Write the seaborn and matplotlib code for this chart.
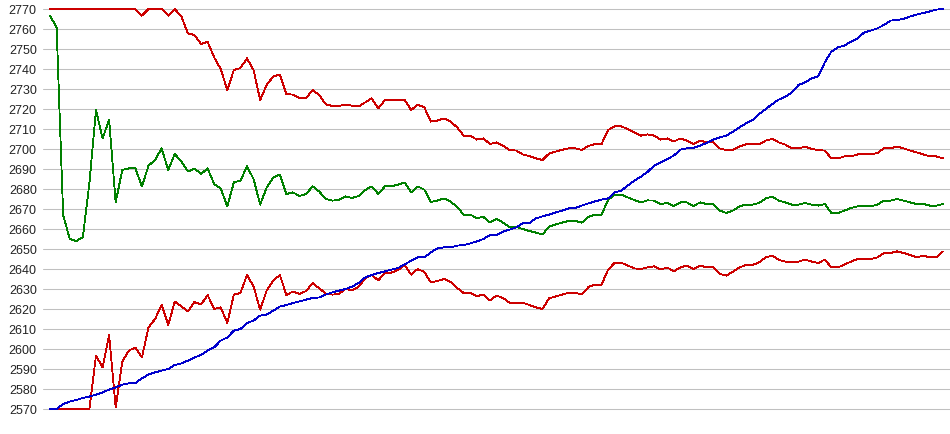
import numpy as np
import pandas as pd
import matplotlib
matplotlib.use("Agg")
import matplotlib.pyplot as plt
import seaborn as sns

# values, one per sample (137 samples)
trend = [2570, 2570, 2572.5, 2573.7, 2574.5, 2575.5, 2576.2, 2577.2, 2578.3, 2579.7,
         2580.8, 2582.2, 2582.8, 2583, 2585.3, 2587.2, 2588.3, 2589.2, 2590, 2592,
         2592.8, 2594.2, 2595.8, 2597, 2599.2, 2600.8, 2604.2, 2605.8, 2609.2, 2610,
         2613, 2614.2, 2616.7, 2617.2, 2619.2, 2621.2, 2622, 2623, 2623.8, 2624.7,
         2625.5, 2625.8, 2627.2, 2628.3, 2629.2, 2630, 2631.2, 2633, 2635.8, 2637,
         2638, 2638.8, 2639.7, 2640.5, 2642.2, 2644.2, 2645.8, 2645.8, 2648.3, 2650.3,
         2650.8, 2650.8, 2651.7, 2652, 2652.8, 2653.8, 2655, 2657, 2657, 2658.7,
         2659.7, 2660.8, 2662.8, 2663, 2665.3, 2666.3, 2667.2, 2668.3, 2669.2, 2670.3,
         2670.5, 2671.7, 2672.8, 2673.8, 2674.7, 2675.3, 2678.3, 2679.2, 2681.7, 2684.2,
         2686.2, 2688.5, 2691.7, 2693.3, 2695, 2696.7, 2699.7, 2700.3, 2700.5, 2701.7,
         2703, 2704.7, 2705.8, 2706.7, 2708.7, 2710.8, 2712.8, 2714.5, 2717.5, 2720,
         2722.5, 2724.7, 2726.2, 2728.3, 2732, 2733.3, 2735.3, 2736.3, 2743.3, 2748.7,
         2750.8, 2751.7, 2753.7, 2755.3, 2758.3, 2759.2, 2760.3, 2762, 2764.2, 2764.5,
         2765, 2766.3, 2767.2, 2768, 2768.8, 2769.7, 2770]

middle = [2766.7, 2760.8, 2667, 2655, 2654, 2656, 2683, 2719.5, 2705.3, 2714.5,
          2673.3, 2689.5, 2690.3, 2690.3, 2681.3, 2691.7, 2694.5, 2700.3, 2689.5, 2697.5,
          2693.7, 2688.7, 2690.3, 2687.5, 2690.3, 2682.5, 2680.3, 2671.3, 2683.3, 2684.2,
          2691.3, 2685, 2672.2, 2680.8, 2685.8, 2687.2, 2677.5, 2678.3, 2676.5, 2677.5,
          2681.3, 2678.7, 2675, 2674.2, 2674.5, 2676.3, 2675.5, 2676.5, 2679.5, 2681.3,
          2677.5, 2681.3, 2681.3, 2682.2, 2683.3, 2678.3, 2681.3, 2679.7, 2673.5, 2674.2,
          2675.3, 2673.7, 2671, 2667.2, 2667.2, 2665.5, 2666, 2663.2, 2665, 2663.2,
          2661, 2661, 2660, 2659, 2658.2, 2657.2, 2661.2, 2662.3, 2663.2, 2664,
          2664, 2663.2, 2666, 2667.2, 2667.2, 2674.5, 2677.2, 2677.2, 2675.8, 2674.5,
          2673.3, 2674.3, 2674.2, 2672.5, 2673, 2671.5, 2673.3, 2673.3, 2671.5, 2673.3,
          2672.5, 2672.5, 2669.2, 2668, 2669.2, 2671.3, 2672.2, 2672.2, 2673, 2675.3,
          2676.2, 2674.2, 2673.3, 2672.2, 2672.2, 2673, 2672.2, 2671.7, 2672.5, 2668,
          2668, 2669.2, 2670.5, 2671.3, 2671.3, 2671.3, 2672.2, 2674.2, 2674.2, 2675,
          2674.2, 2673.3, 2672.5, 2672.5, 2671.7, 2671.7, 2672.5]

upper = [2770, 2770, 2770, 2770, 2770, 2770, 2770, 2770, 2770, 2770,
         2770, 2770, 2770, 2770, 2766.7, 2770, 2770, 2770, 2766.7, 2770,
         2766.3, 2757.8, 2757, 2752.5, 2753.6, 2745.8, 2740, 2729.5, 2739.5, 2740.5,
         2745.3, 2739.5, 2724.5, 2732, 2736.3, 2737.2, 2727.5, 2727.2, 2725.5, 2725.5,
         2729.5, 2727, 2722.3, 2721.5, 2721.5, 2722.2, 2721.7, 2721.3, 2723.3, 2725.3,
         2720.3, 2724.5, 2724.5, 2724.5, 2724.5, 2719.5, 2722.2, 2720.8, 2713.7, 2714.2,
         2715.3, 2713.8, 2710.8, 2706.7, 2706.7, 2704.7, 2705.3, 2702.5, 2703.3, 2701.7,
         2699.5, 2699.2, 2697.3, 2696.5, 2695.3, 2694.5, 2697.7, 2698.7, 2699.6, 2700.3,
         2700.3, 2699.5, 2701.5, 2702.5, 2702.5, 2709.5, 2711.3, 2711.3, 2710, 2708.3,
         2706.7, 2707.3, 2706.7, 2704.7, 2705.3, 2703.7, 2705.3, 2704.2, 2702.5, 2704.2,
         2703.3, 2703.3, 2700.3, 2699.5, 2699.5, 2701.3, 2702.3, 2702.3, 2702.3, 2704.2,
         2705, 2703.3, 2702.2, 2700.3, 2700.3, 2701.2, 2700, 2699.5, 2699.2, 2695.3,
         2695.3, 2696.3, 2696.3, 2697.3, 2697.3, 2697.3, 2698, 2700.3, 2700.3, 2701.3,
         2700.3, 2699.2, 2698.3, 2697.3, 2696.3, 2696.3, 2695.3]

lower = [2570, 2570, 2570, 2570, 2570, 2570, 2570, 2596.7, 2590.8, 2607,
         2570.8, 2593.7, 2599.2, 2600.8, 2595.8, 2610.8, 2615, 2622, 2612, 2623.7,
         2621.3, 2618.8, 2623.5, 2622.2, 2627, 2620, 2620.8, 2613, 2627.2, 2628,
         2637, 2631.3, 2619.7, 2629.2, 2634.2, 2637, 2627, 2628.8, 2627.5, 2629,
         2633, 2630.3, 2627.8, 2627.2, 2627.5, 2630, 2629.3, 2631.2, 2635.3, 2637,
         2634.3, 2638.2, 2638.2, 2639.5, 2642, 2637.2, 2640, 2638.5, 2633.3, 2634,
         2635, 2633.6, 2630.5, 2628, 2628, 2626.5, 2627.1, 2624.3, 2626.7, 2625.5,
         2623.1, 2623.1, 2623.1, 2622, 2620.8, 2620, 2625.3, 2626.3, 2627.2, 2628.1,
         2628.1, 2627.2, 2631, 2632.2, 2632.2, 2639.7, 2643.1, 2643.1, 2641.7, 2640.3,
         2640, 2640.8, 2641.3, 2639.7, 2640.8, 2638.8, 2640.8, 2641.7, 2640, 2641.7,
         2640.8, 2640.8, 2637.5, 2636.7, 2638.7, 2640.8, 2642, 2642, 2643.3, 2645.8,
         2646.7, 2644.5, 2643.7, 2643.7, 2643.7, 2644.7, 2643.7, 2643, 2644.7, 2640.8,
         2640.8, 2642.2, 2643.7, 2645, 2645, 2645, 2645.8, 2648, 2648, 2648.8,
         2648, 2647, 2645.8, 2646.7, 2645.8, 2645.8, 2648.8]

y_ticks = list(range(2570, 2771, 10))

df = pd.DataFrame({"step": np.arange(len(trend)), "trend": trend,
                   "middle": middle, "upper": upper, "lower": lower})

sns.set_style("white")
plt.rcParams["font.family"] = ["Liberation Sans", "DejaVu Sans"]

fig = plt.figure(figsize=(9.5, 4.35), dpi=100)
ax = fig.add_axes([43 / 950, 23 / 435, 907 / 950, 404 / 435])

line_kw = dict(linewidth=0.6, antialiased=False, estimator=None)
sns.lineplot(data=df, x="step", y="lower", color="#cc0000", ax=ax, **line_kw)
sns.lineplot(data=df, x="step", y="upper", color="#cc0000", ax=ax, **line_kw)
sns.lineplot(data=df, x="step", y="middle", color="#008000", ax=ax, **line_kw)
sns.lineplot(data=df, x="step", y="trend", color="#0000cc", ax=ax, **line_kw)

ax.set_xlim(-1.07, len(trend) - 1 + 1.07)
ax.set_ylim(2569, 2771)
ax.set_yticks(y_ticks)
ax.set_xticks([])
ax.set_xlabel("")
ax.set_ylabel("")
ax.grid(axis="y", color="#c0c0c0", linewidth=0.75)
ax.set_axisbelow(True)
for s in ax.spines.values():
    s.set_visible(False)
ax.tick_params(axis="y", length=0, pad=4.5, labelsize=9, labelcolor="#222222")

fig.savefig("out.png", dpi=100)
